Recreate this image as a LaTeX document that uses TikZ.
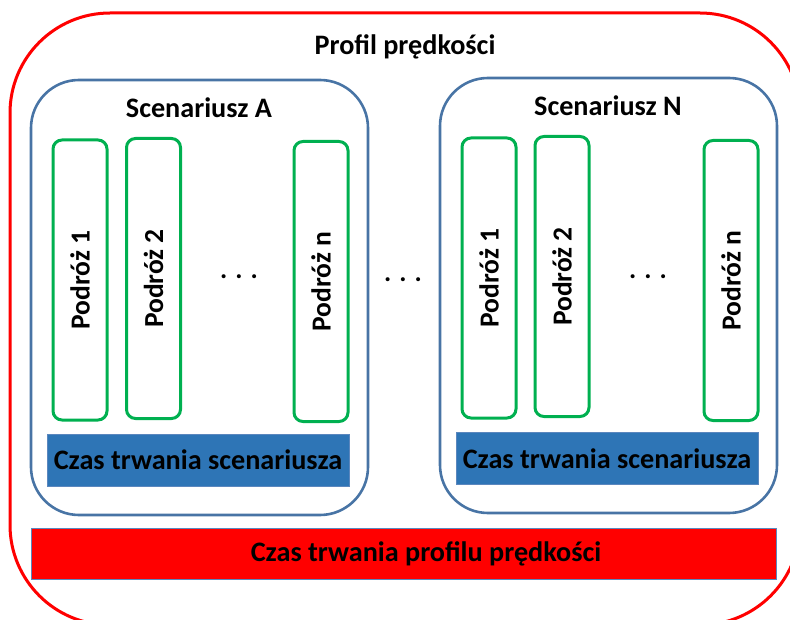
\documentclass[tikz,border=0pt]{standalone}
\usepackage{fontspec}
\setmainfont{Carlito}
\definecolor{frameRed}{RGB}{255,0,0}
\definecolor{scenBlue}{RGB}{72,116,165}
\definecolor{tripGreen}{RGB}{0,176,80}
\definecolor{barBlue}{RGB}{46,117,182}
\definecolor{barEdge}{RGB}{91,135,190}
\begin{document}
\begin{tikzpicture}[x=1pt,y=-1pt,
  profilebox/.style={draw=frameRed,line width=3pt,rounded corners=100pt,
    minimum width=790pt,minimum height=612pt,inner sep=0pt},
  scenbox/.style={draw=scenBlue,line width=2.6pt,rounded corners=48pt,
    minimum width=337pt,minimum height=435pt,inner sep=0pt},
  tripbox/.style={draw=tripGreen,line width=3pt,rounded corners=9pt,
    minimum width=54pt,minimum height=280pt,inner sep=0pt},
  triptext/.style={font=\fontsize{27.5}{30}\selectfont\bfseries,rotate=90,inner sep=0pt},
  scenbar/.style={fill=barBlue,draw=barEdge,line width=0.8pt,
    minimum width=302pt,minimum height=52pt,inner sep=0pt,
    font=\fontsize{28.2}{32}\selectfont\bfseries},
  profbar/.style={fill=frameRed,draw=barEdge,line width=0.8pt,
    minimum width=745pt,minimum height=51pt,inner sep=0pt},
  heading/.style={font=\fontsize{28.2}{32}\selectfont\bfseries,inner sep=0pt},
  dots/.style={font=\fontsize{27}{30}\selectfont\bfseries,inner sep=0pt}]
\useasboundingbox (0,0) rectangle (790,620);
\begin{scope}
\clip (0,0) rectangle (790,620);
\node[profilebox] (profile) at (405,319) {};
\end{scope}
\node[heading] (ptitle) at (405,47) {Profil prędkości};

% scenario A
\node[scenbox] (scenA) at (199.5,297.5) {};
\node[heading] (titleA) at (199,108) {Scenariusz A};
\node[tripbox] (a1) at (80,280) {};
\node[triptext] at (a1) {Podróż 1};
\node[tripbox] (a2) at (153.5,278.5) {};
\node[triptext] at (a2) {Podróż 2};
\node[tripbox] (an) at (321,281.5) {};
\node[triptext] at (an) {Podróż n};
\node[dots] (dotsA) at (239,277) {. . .};
\node[scenbar] (barA) at (198,460) {Czas trwania scenariusza};

% between scenarios
\node[dots] (dotsMid) at (403,280) {. . .};

% scenario N
\node[scenbox] (scenN) at (608.5,295.5) {};
\node[heading] (titleN) at (608,106) {Scenariusz N};
\node[tripbox] (n1) at (489,278) {};
\node[triptext] at (n1) {Podróż 1};
\node[tripbox] (n2) at (562,276.5) {};
\node[triptext] at (n2) {Podróż 2};
\node[tripbox] (nn) at (731,280.5) {};
\node[triptext] at (nn) {Podróż n};
\node[dots] (dotsN) at (648,277) {. . .};
\node[scenbar] (barN) at (607,458.5) {Czas trwania scenariusza};

% total duration bar, its label set a little right of centre
\node[profbar] (profBar) at (403.5,553.5) {};
\node[heading] (profLabel) at (426,553.5) {Czas trwania profilu prędkości};
\end{tikzpicture}
\end{document}
